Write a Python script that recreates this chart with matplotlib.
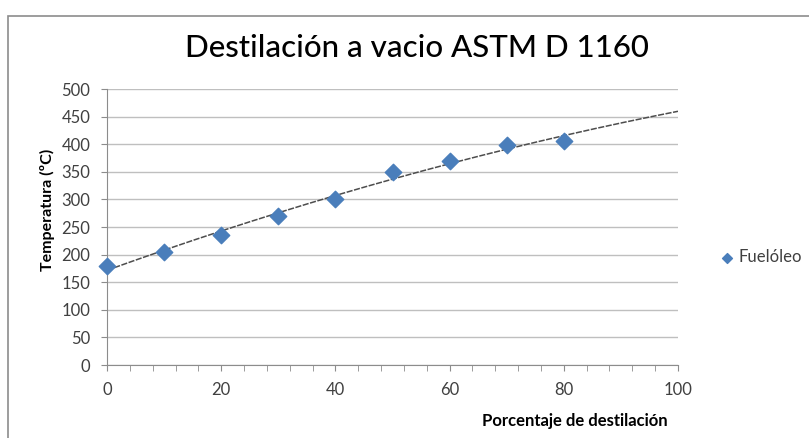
import numpy as np
import matplotlib
matplotlib.use("Agg")
import matplotlib.pyplot as plt
from matplotlib.patches import Rectangle

x_vals = [0, 10, 20, 30, 40, 50, 60, 70, 80]
temps = [180, 205, 235, 270, 300, 350, 370, 398, 405]
series_name = "Fuelóleo"
title = "Destilación a vacio ASTM D 1160"
xlabel = "Porcentaje de destilación"
ylabel = "Temperatura (ºC)"

plt.rcParams['font.family'] = ['Lato', 'DejaVu Sans']

fig = plt.figure(figsize=8.09 * np.array([1, 438 / 809]), dpi=100)
W, H = 809, 438
ax = fig.add_axes([107 / W, (H - 365) / H, (678 - 107) / W, (365 - 89) / H])

# outer chart border
fig.patches.append(Rectangle((8 / W, -0.01), 1.0, (H - 16) / H + 0.01, transform=fig.transFigure,
                             fill=False, edgecolor='#8c8c8c', lw=1.2))

ax.set_xlim(0, 100)
ax.set_ylim(0, 500)
ax.set_yticks(np.arange(0, 501, 50))
ax.set_xticks(np.arange(0, 101, 20))
ax.set_xticks(np.arange(0, 101, 4), minor=True)
ax.grid(axis='y', color='#bfbfbf', lw=1)
ax.set_axisbelow(True)
for s in ['top', 'right']:
    ax.spines[s].set_visible(False)
for s in ['left', 'bottom']:
    ax.spines[s].set_color('#8c8c8c')
ax.tick_params(axis='both', which='both', color='#8c8c8c', length=4, labelsize=12,
               labelcolor='#404040')
ax.tick_params(axis='x', which='major', pad=8)
ax.tick_params(axis='y', which='major', pad=8)
ax.tick_params(axis='x', which='minor', length=4)

# trend line
coef = np.polyfit(x_vals, temps, 2)
xt = np.linspace(0, 100, 200)
ax.plot(xt, np.polyval(coef, xt), color='#4d4d4d', lw=1.1, ls=(0, (4, 1)), zorder=3)

ax.scatter(x_vals, temps, marker='D', s=70, color='#4a7ebb', edgecolor='#4a7ebb', zorder=4,
           clip_on=False, label=series_name)

fig.text(0.516, (H - 48) / H, title, ha='center', va='center', fontsize=22.5, color='black',
         fontweight='medium')
fig.text(47 / W, 228 / H, ylabel, rotation=90, ha='center', va='center', fontsize=11.5,
         fontweight='bold', color='black')
fig.text(575 / W, (H - 421) / H, xlabel, ha='center', va='center', fontsize=12,
         fontweight='bold', color='black')

ax.legend(loc='center left', bbox_to_anchor=(717 / W, (H - 257) / H), bbox_transform=fig.transFigure,
          frameon=False, fontsize=12, handletextpad=0.1, handlelength=1.2, borderpad=0,
          borderaxespad=0, markerscale=0.6, labelcolor='#404040')

fig.savefig("out.png", dpi=100)
